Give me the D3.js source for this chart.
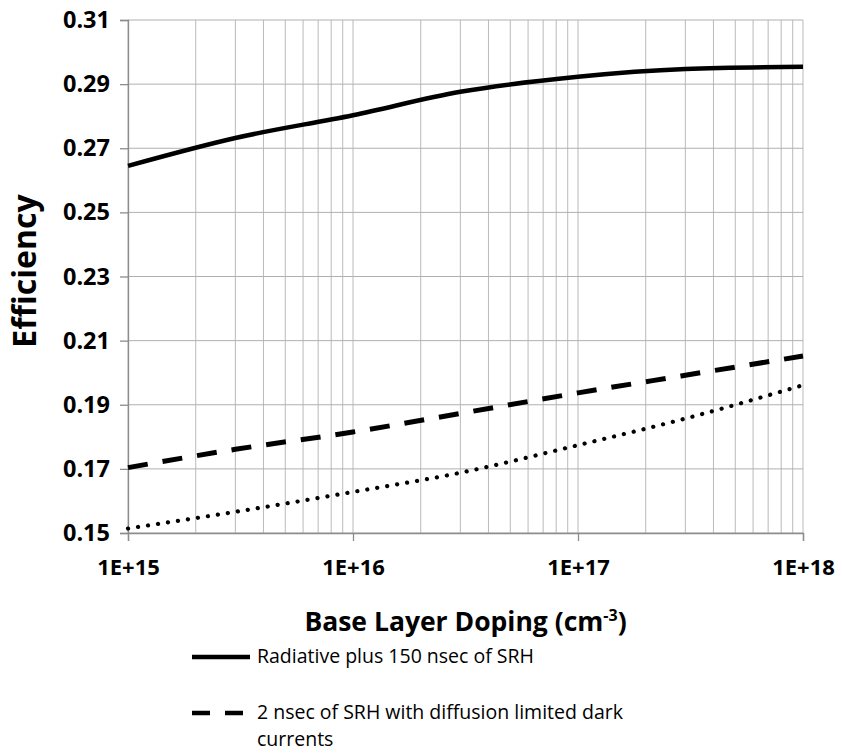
<!DOCTYPE html>
<html>
<head>
<meta charset="utf-8">
<script src="https://cdn.jsdelivr.net/npm/d3@7"></script>
<style>
  body { margin: 0; background: #fff; }
  svg text { font-family: "Open Sans", "Lato", sans-serif; fill: #000; }
</style>
</head>
<body>
<div id="chart"></div>
<script>
// base layer doping (cm^-3)
const doping = [1e15, 3e15, 1e16, 3e16, 1e17, 3e17, 1e18];
const radiativeSrh = [0.2645, 0.2732, 0.2803, 0.2876, 0.2923, 0.2947, 0.2954];
const srhDiffusion = [0.1704, 0.1761, 0.1815, 0.1873, 0.1937, 0.1992, 0.2052];
const srhOther = [0.1514, 0.1566, 0.1628, 0.1688, 0.1774, 0.1857, 0.1961];
const yTicks = [0.15, 0.17, 0.19, 0.21, 0.23, 0.25, 0.27, 0.29, 0.31];
const xTicks = [1e15, 1e16, 1e17, 1e18];
const legendLabels = ["Radiative plus 150 nsec of SRH", "2 nsec of SRH with diffusion limited dark", "currents"];

const W = 842, H = 754;
const margin = { top: 20, right: 39, bottom: 221, left: 128 };
const width = W - margin.left - margin.right;
const height = H - margin.top - margin.bottom;

const svg = d3.select("#chart").append("svg")
  .attr("width", W)
  .attr("height", H);

const g = svg.append("g")
  .attr("transform", `translate(${margin.left},${margin.top})`);

const x = d3.scaleLog().domain([1e15, 1e18]).range([0, width]);
const y = d3.scaleLinear().domain([0.15, 0.31]).range([height, 0]);

// minor log gridlines
let minor = [];
for (let e = 15; e < 18; e++) {
  for (let m = 2; m <= 9; m++) minor.push(m * Math.pow(10, e));
}
g.append("g").selectAll("line")
  .data(minor.concat(xTicks))
  .enter().append("line")
  .attr("x1", d => x(d)).attr("x2", d => x(d))
  .attr("y1", 0).attr("y2", height)
  .style("stroke", "#bababa")
  .style("stroke-width", 1);

g.append("g").selectAll("line")
  .data(yTicks)
  .enter().append("line")
  .attr("x1", 0).attr("x2", width)
  .attr("y1", d => y(d)).attr("y2", d => y(d))
  .style("stroke", "#b0b0b0")
  .style("stroke-width", 1);

// axes
const xAxis = g.append("g")
  .attr("transform", `translate(0,${height})`)
  .call(d3.axisBottom(x).tickValues(xTicks).tickFormat(d => "1E+" + Math.round(Math.log10(d))).tickSize(8).tickPadding(18));
const yAxis = g.append("g")
  .call(d3.axisLeft(y).tickValues(yTicks).tickFormat(d3.format(".2f")).tickSize(8).tickPadding(10));

[xAxis, yAxis].forEach(a => {
  a.selectAll("path, line").style("stroke", "#8c8c8c").style("stroke-width", 1.3);
  a.selectAll("text")
    .style("font-size", "22px")
    .style("font-weight", "bold")
    .style("fill", "#000");
});
yAxis.selectAll("text").style("font-size", "23.5px");

// series
const line = d3.line()
  .x(d => x(d[0]))
  .y(d => y(d[1]))
  .curve(d3.curveMonotoneX);

const series = [
  { values: radiativeSrh, dash: null, width: 4.5, cap: "butt" },
  { values: srhDiffusion, dash: "20 15", width: 5, cap: "butt" },
  { values: srhOther, dash: "0.1 10", width: 4.2, cap: "round" }
];

g.selectAll(".series")
  .data(series)
  .enter().append("path")
  .attr("class", "series")
  .attr("d", s => line(doping.map((d, i) => [d, s.values[i]])))
  .style("fill", "none")
  .style("stroke", "#000")
  .style("stroke-width", s => s.width)
  .style("stroke-dasharray", s => s.dash)
  .style("stroke-linecap", s => s.cap);

// titles
svg.append("text")
  .attr("transform", `translate(36,${271}) rotate(-90)`)
  .attr("text-anchor", "middle")
  .style("font-size", "32px")
  .style("font-weight", "bold")
  .text("Efficiency");

const xt = svg.append("text")
  .attr("x", margin.left + width / 2)
  .attr("y", 631)
  .attr("text-anchor", "middle")
  .style("font-size", "26.5px")
  .style("font-weight", "bold");
xt.append("tspan").text("Base Layer Doping (cm");
xt.append("tspan").attr("dy", -10).style("font-size", "16px").text("-3");
xt.append("tspan").attr("dy", 10).text(")");

// legend
const legend = svg.append("g");
const legendRows = [
  { y: 657, dash: null, text: [legendLabels[0]] },
  { y: 713, dash: "18 15", text: [legendLabels[1], legendLabels[2]] }
];
legendRows.forEach(r => {
  legend.append("line")
    .attr("x1", 192).attr("x2", 250)
    .attr("y1", r.y).attr("y2", r.y)
    .style("stroke", "#000")
    .style("stroke-width", 4.5)
    .style("stroke-dasharray", r.dash);
  const txt = legend.append("text")
    .attr("y", r.y + 6)
    .style("font-size", "19.5px");
  r.text.forEach((t, i) => {
    txt.append("tspan")
      .attr("x", 257)
      .attr("dy", i === 0 ? 0 : 27)
      .text(t);
  });
});
</script>
</body>
</html>
